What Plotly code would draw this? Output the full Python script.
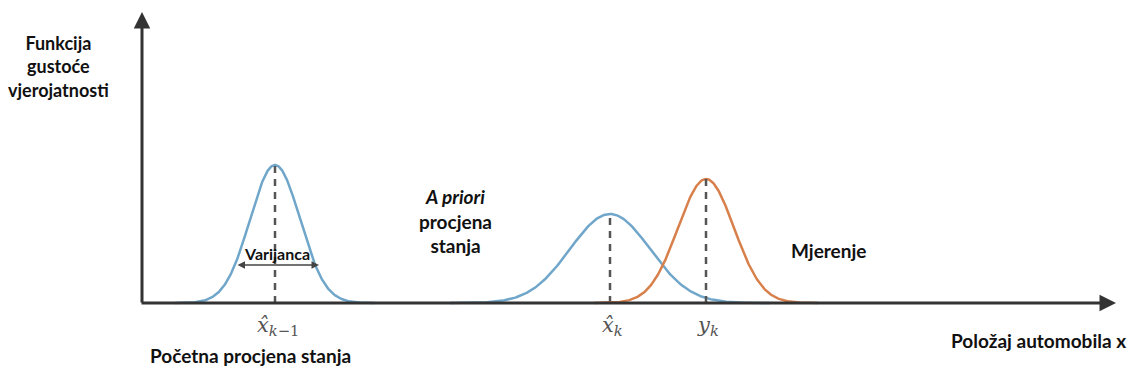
import numpy as np
import plotly.graph_objects as go

# canvas units follow the picture: x to the right, y up from the bottom edge
W, H = 1135, 391
origin_x, origin_y = 142, 88
x_end, y_end = 1116, 379

# gaussian curves: centre, peak height above the axis, spread
curve_names = ["pocetna", "a_priori", "mjerenje"]
curve_centers = [275, 610, 706]
curve_peaks = [138, 89, 124]
curve_sigmas = [25, 40, 28]
curve_colors = ["#6fa6c9", "#6fa6c9", "#d8804c"]

# tick labels under the x axis
tick_labels = ["<i>x̂</i><sub><i>k</i>−1</sub>", "<i>x̂</i><sub><i>k</i></sub>", "<i>y</i><sub><i>k</i></sub>"]
tick_positions = [278, 612, 708]

fig = go.Figure()

for c, p, s, col in zip(curve_centers, curve_peaks, curve_sigmas, curve_colors):
    xs = np.linspace(c - 4 * s, c + 4 * s, 300)
    ys = origin_y + p * np.exp(-((xs - c) ** 2) / (2 * s ** 2))
    fig.add_trace(go.Scatter(x=xs, y=ys, mode="lines",
                             line=dict(color=col, width=2.5), hoverinfo="skip"))
    # dashed line from peak down to the axis
    fig.add_trace(go.Scatter(x=[c, c], y=[origin_y, origin_y + p], mode="lines",
                             line=dict(color="#555555", width=2.5, dash="7px,6px"), hoverinfo="skip"))

# axes with arrows
fig.add_annotation(x=x_end, y=origin_y, ax=origin_x - 2, ay=origin_y, xref="x", yref="y",
                   axref="x", ayref="y", showarrow=True, arrowhead=2, arrowsize=1.1,
                   arrowwidth=3, arrowcolor="#333333", text="")
fig.add_annotation(x=origin_x, y=y_end, ax=origin_x, ay=origin_y - 1, xref="x", yref="y",
                   axref="x", ayref="y", showarrow=True, arrowhead=2, arrowsize=1.1,
                   arrowwidth=3, arrowcolor="#333333", text="")

# variance double arrow
fig.add_annotation(x=319, y=126, ax=236, ay=126, xref="x", yref="y",
                   axref="x", ayref="y", showarrow=True, arrowhead=2, arrowside="end+start",
                   arrowsize=1, arrowwidth=1.5, arrowcolor="#444444", text="")

font = dict(family="Lato, Open Sans, sans-serif", size=19, color="#111111", weight="bold")

texts = [
    (58, 325, "Funkcija<br>gustoće<br>vjerojatnosti", 18, "center"),
    (277, 138, "Varijanca", 16, "center"),
    (455, 170, "<i>A priori</i><br>procjena<br>stanja", 19, "center"),
    (828, 141, "Mjerenje", 19, "center"),
    (250, 36, "Početna procjena stanja", 19, "center"),
    (1038, 51, "Položaj automobila x", 19, "center"),
]
for x, y, t, sz, al in texts:
    f = dict(font)
    f["size"] = sz
    fig.add_annotation(x=x, y=y, xref="x", yref="y", text=t, showarrow=False,
                       font=f, align=al)

for x, t in zip(tick_positions, tick_labels):
    fig.add_annotation(x=x, y=65, xref="x", yref="y", text=t, showarrow=False,
                       font=dict(family="DejaVu Serif, serif", size=21, color="#555555"))

# ranges offset by the 8px page margin so canvas units land on picture pixels
fig.update_layout(
    width=W, height=H,
    margin=dict(l=0, r=0, t=0, b=0),
    paper_bgcolor="white", plot_bgcolor="white",
    showlegend=False,
    xaxis=dict(range=[8, W + 8], visible=False, fixedrange=True),
    yaxis=dict(range=[-8, H - 8], visible=False, fixedrange=True),
)

fig.write_html("out.html")
